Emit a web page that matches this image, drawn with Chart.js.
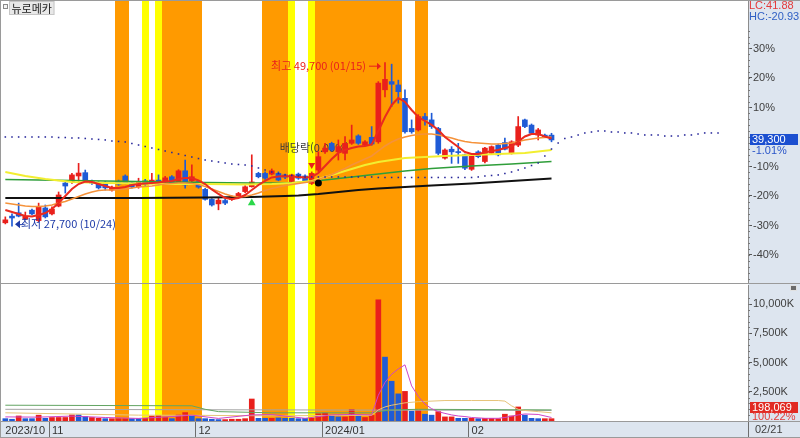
<!DOCTYPE html>
<html lang="ko"><head><meta charset="utf-8"><title>뉴로메카</title>
<script src="https://cdn.jsdelivr.net/npm/chart.js@4.4.1/dist/chart.umd.min.js"></script>
<style>
html,body{margin:0;padding:0;background:#fff;overflow:hidden}
#wrap{position:relative;width:800px;height:438px}
canvas{position:absolute;left:0;display:block}
#top{top:0}#bot{top:284px}
</style></head><body>
<div id="wrap"><canvas id="top" width="800" height="284"></canvas><canvas id="bot" width="800" height="154"></canvas></div>
<script>
// ---------------- DATA ----------------
const stockName = '뉴로메카';
const categories = ['10/23','10/24','10/25','10/26','10/27','10/30','10/31',
'11/01','11/02','11/03','11/06','11/07','11/08','11/09','11/10','11/13','11/14','11/15','11/16','11/17','11/20','11/21','11/22','11/23','11/24','11/27','11/28','11/29','11/30',
'12/01','12/04','12/05','12/06','12/07','12/08','12/11','12/12','12/13','12/14','12/15','12/18','12/19','12/20','12/21','12/22','12/26','12/27','12/28',
'01/02','01/03','01/04','01/05','01/08','01/09','01/10','01/11','01/12','01/15','01/16','01/17','01/18','01/19','01/22','01/23','01/24','01/25','01/26','01/29','01/30','01/31',
'02/01','02/02','02/05','02/06','02/07','02/08','02/13','02/14','02/15','02/16','02/19','02/20','02/21'];
const FUTURE_SLOTS = 29;
const monthLabels = {0:'2023/10', 7:'11', 29:'12', 48:'2024/01', 70:'02'};

const opens = [28150,29050,29500,28650,29850,28450,30150,29350,30400,33500,
33700,34450,34900,33700,33500,33500,32550,33700,34450,33550,
33000,33800,33450,33900,33650,34350,33450,35150,33800,33700,
32650,31300,30700,31150,31300,31650,32350,33000,34800,34800,
34700,34800,34600,33700,34700,34450,33450,35250,37700,38850,
37700,37500,38850,39850,38600,39650,39050,46050,47150,46700,
44900,40850,40650,42450,42000,40850,36850,38050,37700,37300,
35350,37700,36400,37500,38600,38950,37500,38600,42000,41300,
39950,39950,39950];
const highs = [28950,29350,30800,29600,30000,30800,30550,30300,32300,33700,
34800,36150,35250,33900,33700,33700,33100,33900,34600,33700,
34150,34000,34800,34600,34400,34500,35300,36600,35950,33800,
32800,31400,31500,31300,31800,32250,33150,37300,34950,35000,
35400,35000,34700,34700,34850,34600,35000,37700,38850,39000,
39300,39750,41300,40000,39200,41100,47150,49700,49500,47350,
46050,42000,42700,42900,42900,41000,38100,38400,38850,37400,
37400,37850,38300,38500,38750,39550,39200,42450,42100,41450,
40850,40100,40200];
const lows = [28000,27700,28950,28550,29200,28300,28800,29200,30300,32150,
33450,33700,33800,33300,32700,32550,32400,33200,33400,32800,
32800,33200,33400,33250,33500,33400,33300,32800,33450,32800,
31200,30400,29900,30600,31150,31550,32200,32950,34200,34000,
34600,33800,34100,33550,34000,33550,33300,35050,37500,37800,
36600,36600,38700,38700,38500,38600,38850,45100,43800,44250,
40200,40200,40500,41300,40850,37300,36700,36150,36150,35300,
35200,36900,36200,37400,37150,37950,37400,38400,40950,40050,
39300,39600,39050];
const closes = [28550,28800,29050,29050,29350,30300,28950,30000,31900,33100,
34600,34850,33900,33500,32850,32850,32950,33350,33550,32950,
33700,33350,33900,33450,34200,33550,35150,33250,34350,32950,
31300,30550,31200,30800,31650,32100,33000,33650,34350,34150,
35150,33900,34300,34600,34150,33700,34800,37050,38200,37950,
38400,38850,39300,38850,39050,38750,46950,47450,46800,45800,
40400,40400,42450,42000,41100,37500,37950,37700,37600,35500,
37300,37050,38200,38400,37300,38050,39050,41100,41100,40200,
40650,39700,39300];

const ma5 = [29870,29600,29340,29070,29000,29200,29470,30010,30820,31760,
32700,33370,33710,33640,33370,33100,32840,32840,32970,33240,
33370,33440,33510,33580,33710,33780,34050,34180,34180,33850,
33370,32640,32030,31490,31360,31490,31890,32570,33240,33780,
34250,34380,34450,34380,34320,34250,34320,34850,35800,36740,
37550,37950,38220,38420,38490,38690,40510,42390,44010,44950,
44410,43330,42390,41850,41320,40640,39700,39030,38350,37680,
37410,37410,37610,37820,37950,38220,38420,39090,39770,40100,
40100,39770,39500];
const ma20 = [30820,30680,30550,30410,30350,30350,30410,30550,30820,31020,
31360,31690,32030,32300,32500,32570,32570,32630,32700,32840,
32970,33040,33100,33240,33370,33440,33510,33510,33440,33310,
33040,32700,32360,32030,31760,31620,31690,31890,32160,32500,
32770,32970,33170,33310,33440,33580,33710,33980,34320,34650,
35060,35460,35930,36340,36740,37140,37820,38490,39030,39430,
39700,39900,40040,40100,40100,39970,39770,39570,39300,39090,
38960,38890,38830,38760,38760,38830,38890,39090,39300,39430,
39570,39630,39700];
const ma60Pts = [[0,34990],[3,34450],[6,34050],[10,33640],[15,33510],[20,33440],[25,33370],[30,33370],[36,33310],[40,33370],[43,33510],[46,33780],[48,34320],[50,34850],[52,35390],[54,35930],[56,36340],[58,36600],[60,36870],[63,37010],[66,37140],[70,37280],[74,37410],[78,37550],[82,37950]];
const ma120Pts = [[0,33980],[10,33850],[20,33710],[30,33580],[37,33510],[42,33510],[45,33640],[48,33910],[52,34320],[56,34720],[60,35120],[64,35460],[70,35800],[76,36070],[82,36400]];
const ma240Pts = [[0,31490],[10,31490],[20,31490],[30,31560],[37,31620],[42,31760],[44,31830],[47,32030],[50,32300],[53,32570],[56,32770],[60,32970],[64,33170],[70,33440],[76,33780],[82,34110]];
const spanB = [
39700,39700,39700,39700,39700,39700,39700,39700,39630,39630,
39570,39570,39500,39430,39370,39300,39170,39100,39030,38830,
38620,38420,38220,38020,37820,37610,37410,37210,37010,36800,
36600,36470,36340,36200,36070,36000,35930,35800,35530,35260,
34990,34790,34590,34520,34450,34320,34320,34320,34320,34320,
34320,34320,34320,34320,34320,34320,34250,34250,34250,34250,
34250,34250,34250,34250,34250,34250,34250,34250,34250,34250,
34250,34320,34450,34520,34590,34790,34990,35260,35530,35860,
36200,37140,38080,38890,39500,39700,39970,40240,40370,40510,
40510,40370,40370,40240,40240,40100,39970,39970,39970,39830,
39830,39830,39970,39970,40100,40240,40240,40240];

// volume in thousands of shares
const volumeK = [200,150,430,200,200,500,230,300,300,300,
520,520,380,300,230,200,200,200,200,200,
200,230,430,480,300,200,520,720,450,200,
200,150,120,120,150,150,200,1880,230,230,
230,260,230,230,200,230,230,620,680,400,
350,350,1000,400,300,480,10360,5460,3400,2320,
2530,830,900,580,500,800,350,350,230,230,
230,200,230,230,200,580,430,1200,500,230,
200,197.636,198.069];
const volumeDir = 'bbrbbrbrrr'+'rbbrrbrrrb'+'brrrrbrrbb'+'bbbrrrrrbb'+'rbbbbbrrrb'+'brrbrrrbbb'+'rbrbbrrrbb'+'rbrrrrrrbb'+'brr';
const vma5Pts = [[0,350],[5,330],[10,420],[15,300],[20,220],[25,380],[28,500],[32,220],[37,520],[40,550],[45,230],[49,520],[52,560],[55,520],[56,2200],[57,3300],[58,4000],[59,4450],[60,4800],[61,3000],[62,2100],[63,1450],[64,1050],[65,800],[66,650],[67,520],[68,430],[69,380],[70,300],[72,230],[74,230],[75,300],[77,520],[78,600],[80,560],[82,300]];
const vma20Pts = [[0,700],[10,600],[20,500],[30,480],[40,440],[50,480],[55,480],[56,950],[57,1200],[58,1350],[59,1450],[60,1550],[62,1650],[66,1750],[70,1750],[74,1750],[75,1700],[76,1300],[77,1000],[78,900],[80,800],[82,700]];
const vma60Pts = [[0,1350],[28,1300],[30,1000],[32,800],[40,700],[55,700],[56,800],[58,950],[62,1000],[82,950]];
const vma120Pts = [[0,1000],[40,950],[82,900]];

const orangeBands = [17,18,24,25,26,27,28,29,39,40,41,42,47,48,49,50,51,52,53,54,55,56,57,58,59,62,63];
const yellowBands = [21,23,43,46];
const dividendSlot = 46, dividendMark = 35930;
const blackDot = [[47,33510]];
const greenMark = [[37,30800]];
const pctTicks = [30,20,10,-10,-20,-30,-40];
const volTicks = [2500,5000,7500,10000];

// ---------------- DERIVED ----------------
const N = categories.length + FUTURE_SLOTS;
const labels = categories.concat(Array(FUTURE_SLOTS).fill(''));
const pad = a => a.concat(Array(N - a.length).fill(null));
const sparse = pts => { const a = Array(N).fill(null); pts.forEach(([i,v]) => a[i] = v); return a; };
const last = categories.length - 1;
const CUR = closes[last], PREV = closes[last-1];
const BASE = PREV;
const hiVal = Math.max(...highs), hiIdx = highs.indexOf(hiVal);
const loVal = Math.min(...lows), loIdx = lows.indexOf(loVal);
const fmt = v => Math.round(v).toLocaleString('en-US');

const RED = '#e9201c', BLUE = '#1f5bd6', ORANGE = '#ff9a00', YELLOW = '#ffff00';
const AXIS_BG = '#dde5ef', AXIS_LINE = '#8c8c8c';
const FONT = "'Liberation Sans Narrow','Liberation Sans','Noto Sans CJK KR',sans-serif";
const KFONT = "'Liberation Sans Narrow','Noto Sans CJK KR','Liberation Sans',sans-serif";
const candleColors = pad(closes.map((c,i) => c >= opens[i] ? RED : BLUE));
const volColors = pad(volumeDir.split('').map(d => d === 'r' ? RED : BLUE));

const PMIN = 20050, PMAX = 58000;
const VMIN = 0, VMAX = 11624;

function drawBands(chart, top, bottom){
  const {ctx} = chart, xs = chart.scales.x;
  const half = (xs.getPixelForValue(1) - xs.getPixelForValue(0)) / 2;
  const fill = (slots, color) => { ctx.fillStyle = color; slots.forEach(i => {
    const c = xs.getPixelForValue(i); const l = Math.round(c - half), r = Math.round(c + half);
    ctx.fillRect(l, top, r - l, bottom - top); }); };
  ctx.save(); fill(orangeBands, ORANGE); fill(yellowBands, YELLOW); ctx.restore();
}
function box(ctx, x, y, w, h, fill, stroke){ ctx.fillStyle = fill; ctx.fillRect(x, y, w, h); if (stroke){ ctx.strokeStyle = stroke; ctx.strokeRect(x+0.5, y+0.5, w-1, h-1); } }

const baseOpts = {
  responsive:false, animation:false, devicePixelRatio:1, events:[],
  plugins:{legend:{display:false}, tooltip:{enabled:false}},
};

// ---------------- PRICE CHART ----------------
const topPlugin = {
  id:'topDeco',
  beforeDraw(chart){
    const {ctx, chartArea:a} = chart;
    ctx.save(); ctx.fillStyle = '#fff'; ctx.fillRect(0,0,chart.width,chart.height);
    ctx.fillStyle = AXIS_BG; ctx.fillRect(a.right, 0, chart.width - a.right, chart.height); ctx.restore();
  },
  beforeDatasetsDraw(chart){
    const {ctx, chartArea:a, scales:{x, y}} = chart;
    drawBands(chart, 0, a.bottom);
    ctx.save(); ctx.font = '11px ' + KFONT; ctx.fillStyle = '#3a3a3a'; ctx.textBaseline = 'middle';
    ctx.fillText('배당락(0.00%)', x.getPixelForValue(dividendSlot) - 32, y.getPixelForValue(dividendMark) - 17);
    ctx.restore();
  },
  afterDatasetsDraw(chart){
    const {ctx, scales:{x, y}} = chart;
    ctx.save(); ctx.font = '11px ' + KFONT; ctx.textBaseline = 'middle';
    const hx = x.getPixelForValue(hiIdx), hy = y.getPixelForValue(hiVal) + 3;
    ctx.fillStyle = RED; ctx.strokeStyle = RED; ctx.lineWidth = 1;
    ctx.textAlign = 'right'; ctx.fillText('최고 ' + fmt(hiVal) + ' (' + categories[hiIdx] + ')', hx - 19, hy);
    ctx.beginPath(); ctx.moveTo(hx - 16, hy + 0.5); ctx.lineTo(hx - 5, hy + 0.5); ctx.stroke();
    ctx.beginPath(); ctx.moveTo(hx - 4, hy + 0.5); ctx.lineTo(hx - 8, hy - 3); ctx.lineTo(hx - 8, hy + 4); ctx.closePath(); ctx.fill();
    const lx = x.getPixelForValue(loIdx), ly = y.getPixelForValue(loVal) - 2;
    ctx.fillStyle = '#1d3aa8'; ctx.strokeStyle = '#1d3aa8';
    ctx.beginPath(); ctx.moveTo(lx + 3, ly); ctx.lineTo(lx + 8, ly - 4); ctx.lineTo(lx + 8, ly + 4); ctx.closePath(); ctx.fill();
    ctx.beginPath(); ctx.moveTo(lx + 8, ly + 0.5); ctx.lineTo(lx + 12, ly + 0.5); ctx.stroke();
    ctx.textAlign = 'left'; ctx.fillText('최저 ' + fmt(loVal) + ' (' + categories[loIdx] + ')', lx + 9, ly);
    ctx.restore();
  },
  afterDraw(chart){
    const {ctx, chartArea:a, scales:{y}} = chart;
    ctx.save();
    ctx.strokeStyle = '#7a7a7a'; ctx.lineWidth = 1; ctx.beginPath();
    for (let p = -48; p <= 50; p += 2){
      const py = Math.round(y.getPixelForValue(BASE*(1+p/100))) + 0.5;
      if (py < 26 || py > a.bottom - 1) continue;
      ctx.moveTo(a.right, py); ctx.lineTo(a.right + 2, py);
    }
    ctx.stroke();
    ctx.font = '11px ' + FONT; ctx.textBaseline = 'middle'; ctx.textAlign = 'left';
    ctx.fillStyle = '#e4393a'; ctx.fillText('LC:' + ((CUR/loVal - 1)*100).toFixed(2), a.right + 1, 6);
    ctx.fillStyle = '#2f5fc4'; ctx.fillText('HC:' + ((CUR/hiVal - 1)*100).toFixed(2), a.right + 1, 17);
    const cy = Math.round(y.getPixelForValue(CUR));
    box(ctx, a.right + 2, cy - 6, 48, 11, '#1b4fd0');
    ctx.fillStyle = '#fff'; ctx.fillText(fmt(CUR), a.right + 4, cy);
    ctx.fillStyle = '#2a55c8'; ctx.fillText(((CUR/PREV - 1)*100).toFixed(2) + '%', a.right + 4, cy + 10.5);
    ctx.strokeStyle = '#9a9a9a'; ctx.beginPath();
    ctx.moveTo(0.5, 0); ctx.lineTo(0.5, chart.height);
    ctx.moveTo(0, 0.5); ctx.lineTo(chart.width, 0.5);
    ctx.moveTo(0, a.bottom + 0.5); ctx.lineTo(chart.width, a.bottom + 0.5);
    ctx.stroke();
    ctx.font = '11px ' + KFONT;
    const tw = ctx.measureText(stockName).width;
    box(ctx, 9, 1, tw + 5, 14, '#e8e8e8', '#c6c6c6');
    ctx.fillStyle = '#1a1a1a'; ctx.textAlign = 'left'; ctx.fillText(stockName, 11.5, 8.5);
    box(ctx, 3, 4, 5, 5, '#f4f4f4', '#8a8a8a');
    ctx.restore();
  }
};

new Chart(document.getElementById('top'), {
  data:{ labels, datasets:[
    {type:'line', data:sparse(blackDot), showLine:false, pointRadius:3.5, pointBackgroundColor:'#000', pointBorderWidth:0, order:0},
    {type:'line', data:sparse(greenMark), showLine:false, pointStyle:'triangle', pointRadius:4.5, pointBackgroundColor:'#2bd84a', pointBorderWidth:0, order:0},
    {type:'line', data:sparse([[dividendSlot, dividendMark]]), showLine:false, pointStyle:'triangle', pointRotation:180, pointRadius:4, pointBackgroundColor:RED, pointBorderWidth:0, order:0},
    {type:'line', data:pad(spanB), showLine:false, pointStyle:'rect', pointRadius:1.1, pointBackgroundColor:'#27279a', pointBorderWidth:0, order:1},
    {type:'line', data:pad(ma5), borderColor:'#ea2a1f', borderWidth:2, pointRadius:0, order:2},
    {type:'line', data:pad(ma20), borderColor:'#f5923a', borderWidth:1.6, pointRadius:0, order:3},
    {type:'line', data:sparse(ma60Pts), spanGaps:true, borderColor:'#f2ee30', borderWidth:2, pointRadius:0, order:4},
    {type:'line', data:sparse(ma120Pts), spanGaps:true, borderColor:'#2f9e3a', borderWidth:1.6, pointRadius:0, order:5},
    {type:'line', data:sparse(ma240Pts), spanGaps:true, borderColor:'#111', borderWidth:2, pointRadius:0, order:6},
    {type:'bar', data:pad(opens.map((o,i) => [o, closes[i]])), backgroundColor:candleColors, barThickness:5, minBarLength:1, grouped:false, order:8},
    {type:'bar', data:pad(lows.map((l,i) => [l, highs[i]])), backgroundColor:candleColors, barThickness:1, grouped:false, order:9},
  ]},
  options:{ ...baseOpts,
    layout:{autoPadding:false, padding:{left:2, right:0, top:1, bottom:1}},
    scales:{
      x:{type:'category', offset:true, display:false, grid:{display:false}},
      y:{type:'linear', position:'right', min:PMIN, max:PMAX,
        afterBuildTicks: s => { s.ticks = pctTicks.map(p => ({value: BASE*(1+p/100)})); },
        afterFit: s => { s.width = 52; s.paddingTop = 0; s.paddingBottom = 0; },
        grid:{drawOnChartArea:false, drawTicks:true, tickLength:4, color:'#555'},
        border:{display:true, color:AXIS_LINE},
        ticks:{callback: v => Math.round((v/BASE - 1)*100) + '%', color:'#404040', font:{family:FONT, size:11}, padding:1, autoSkip:false}
      }
    }
  },
  plugins:[topPlugin]
});

// ---------------- VOLUME CHART ----------------
const botPlugin = {
  id:'botDeco',
  beforeDraw(chart){
    const {ctx, chartArea:a} = chart;
    ctx.save(); ctx.fillStyle = '#fff'; ctx.fillRect(0,0,chart.width,chart.height);
    ctx.fillStyle = AXIS_BG; ctx.fillRect(a.right, 0, chart.width - a.right, chart.height);
    ctx.fillRect(0, a.bottom, chart.width, chart.height - a.bottom); ctx.restore();
  },
  beforeDatasetsDraw(chart){ drawBands(chart, 0, chart.chartArea.bottom); },
  afterDraw(chart){
    const {ctx, chartArea:a, scales:{x, y}} = chart;
    ctx.save();
    const half = (x.getPixelForValue(1) - x.getPixelForValue(0)) / 2;
    ctx.strokeStyle = '#7a7a7a'; ctx.lineWidth = 1; ctx.beginPath();
    for (let v = 500; v <= 11500; v += 500){
      const py = Math.round(y.getPixelForValue(v)) + 0.5; if (py < 12) continue;
      ctx.moveTo(a.right, py); ctx.lineTo(a.right + 2, py);
    }
    ctx.stroke();
    ctx.strokeStyle = '#6e6e6e'; ctx.beginPath();
    Object.keys(monthLabels).map(Number).filter(i => i > 0).forEach(i => {
      const px = Math.round(x.getPixelForValue(i) - half) + 0.5;
      ctx.moveTo(px, a.bottom); ctx.lineTo(px, chart.height);
    });
    ctx.moveTo(a.right + 0.5, a.bottom); ctx.lineTo(a.right + 0.5, chart.height);
    ctx.stroke();
    ctx.strokeStyle = '#9a9a9a'; ctx.beginPath();
    ctx.moveTo(0, a.bottom + 0.5); ctx.lineTo(chart.width, a.bottom + 0.5);
    ctx.moveTo(0.5, 0); ctx.lineTo(0.5, chart.height);
    ctx.moveTo(0, chart.height - 0.5); ctx.lineTo(chart.width, chart.height - 0.5);
    ctx.stroke();
    ctx.font = '11px ' + FONT; ctx.textBaseline = 'middle'; ctx.textAlign = 'left';
    ctx.fillStyle = '#404040'; ctx.fillText(categories[last], a.right + 7, a.bottom + 9);
    box(ctx, a.right + 2, a.bottom - 19, 48, 11, '#e12a22');
    ctx.fillStyle = '#fff'; ctx.fillText(fmt(volumeK[last]*1000), a.right + 4, a.bottom - 13.5);
    ctx.fillStyle = '#e23b3b'; ctx.fillText((volumeK[last]/volumeK[last-1]*100).toFixed(2) + '%', a.right + 4, a.bottom - 4);
    box(ctx, 790, 1, 7, 6, '#6b6b6b', '#e0e0e0');
    ctx.restore();
  }
};

new Chart(document.getElementById('bot'), {
  data:{ labels, datasets:[
    {type:'line', data:sparse(vma5Pts), spanGaps:true, borderColor:'#cf45c8', borderWidth:1, pointRadius:0, order:1},
    {type:'line', data:sparse(vma20Pts), spanGaps:true, borderColor:'#e6c479', borderWidth:1, pointRadius:0, order:2},
    {type:'line', data:sparse(vma60Pts), spanGaps:true, borderColor:'#63a563', borderWidth:1, pointRadius:0, order:3},
    {type:'line', data:sparse(vma120Pts), spanGaps:true, borderColor:'#a5a5a5', borderWidth:1, pointRadius:0, order:4},
    {type:'bar', data:pad(volumeK), backgroundColor:volColors, barThickness:5, grouped:false, order:8},
  ]},
  options:{ ...baseOpts,
    layout:{autoPadding:false, padding:{left:2, right:0, top:1, bottom:0}},
    scales:{
      x:{type:'category', offset:true, position:'bottom', grid:{display:false, drawTicks:false}, border:{display:false},
        afterFit: s => { s.height = 17; s.paddingLeft = 0; s.paddingRight = 0; },
        ticks:{callback: (v, i) => monthLabels[i] || '', autoSkip:false, maxRotation:0, minRotation:0, align:'start', padding:3, color:'#333', font:{family:FONT, size:11}}
      },
      y:{type:'linear', position:'right', min:VMIN, max:VMAX,
        afterBuildTicks: s => { s.ticks = volTicks.map(v => ({value:v})); },
        afterFit: s => { s.width = 52; s.paddingTop = 0; s.paddingBottom = 0; },
        grid:{drawOnChartArea:false, drawTicks:true, tickLength:4, color:'#555'},
        border:{display:true, color:AXIS_LINE},
        ticks:{callback: v => v.toLocaleString('en-US') + 'K', color:'#404040', font:{family:FONT, size:11}, padding:1, autoSkip:false}
      }
    }
  },
  plugins:[botPlugin]
});
</script></body></html>
